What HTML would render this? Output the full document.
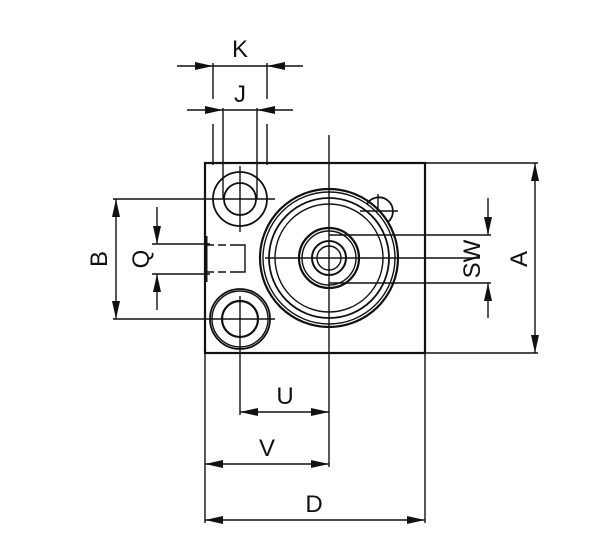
<!DOCTYPE html>
<html><head><style>body{margin:0;background:#fff}svg{display:block}text{font-family:"Liberation Sans",sans-serif;font-size:24px;fill:#111}</style></head>
<body>
<svg width="600" height="537" viewBox="0 0 600 537" xmlns="http://www.w3.org/2000/svg">
<defs>
<marker id="a" markerUnits="userSpaceOnUse" markerWidth="20" markerHeight="10" refX="18" refY="4" orient="auto"><path d="M0,0 L18,4 L0,8 Z" fill="#111"/></marker>
</defs>
<g stroke="#111" fill="none" stroke-width="1.4">
<rect x="205" y="163" width="220" height="190" stroke-width="2.2"/>
<line x1="329" y1="135" x2="329" y2="467"/>
<line x1="265" y1="258" x2="480" y2="258"/>
<circle cx="329" cy="258" r="69" stroke-width="2.2"/>
<circle cx="329" cy="258" r="66"/>
<circle cx="329" cy="258" r="60" stroke-width="1.8"/>
<circle cx="329" cy="258" r="54"/>
<circle cx="329" cy="258" r="30" stroke-width="2.2"/>
<circle cx="329" cy="258" r="27"/>
<circle cx="329" cy="258" r="17" stroke-width="2"/>
<circle cx="329" cy="258" r="12"/>
<path d="M367,204 A14,14 0 1 1 388,222" stroke-width="1.8"/>
<line x1="378" y1="194" x2="378" y2="210"/>
<line x1="360" y1="211" x2="398" y2="211"/>
<circle cx="240" cy="199" r="27" stroke-width="1.8"/>
<circle cx="240" cy="199" r="16" stroke-width="1.8"/>
<line x1="240" y1="166" x2="240" y2="232"/>
<circle cx="240" cy="319" r="30" stroke-width="1.8"/>
<circle cx="240" cy="319" r="28"/>
<circle cx="240" cy="319" r="18" stroke-width="2.2"/>
<line x1="240" y1="296" x2="240" y2="415"/>
<line x1="206" y1="236" x2="206" y2="282" stroke-width="3"/>
<path d="M206,245 H237 M206,272 H237" stroke-dasharray="8,4"/>
<path d="M237,245 H245 V272 H237"/>
<line x1="213" y1="63" x2="213" y2="99"/>
<line x1="267" y1="63" x2="267" y2="99"/>
<line x1="213" y1="124" x2="213" y2="165"/>
<line x1="267" y1="124" x2="267" y2="165"/>
<line x1="223" y1="108" x2="223" y2="199"/>
<line x1="257" y1="108" x2="257" y2="199"/>
<line x1="177" y1="66" x2="213" y2="66" marker-end="url(#a)"/>
<line x1="303" y1="66" x2="267" y2="66" marker-end="url(#a)"/>
<line x1="213" y1="66" x2="267" y2="66"/>
<line x1="187" y1="110" x2="223" y2="110" marker-end="url(#a)"/>
<line x1="293" y1="110" x2="257" y2="110" marker-end="url(#a)"/>
<line x1="223" y1="110" x2="257" y2="110"/>
<line x1="113" y1="199" x2="275" y2="199"/>
<line x1="113" y1="319" x2="275" y2="319"/>
<line x1="152" y1="244" x2="210" y2="244"/>
<line x1="152" y1="274" x2="210" y2="274"/>
<line x1="116" y1="258" x2="116" y2="199" marker-end="url(#a)"/>
<line x1="116" y1="258" x2="116" y2="319" marker-end="url(#a)"/>
<line x1="157" y1="207" x2="157" y2="244" marker-end="url(#a)"/>
<line x1="157" y1="310" x2="157" y2="274" marker-end="url(#a)"/>
<line x1="329" y1="235" x2="491" y2="235"/>
<line x1="329" y1="283" x2="491" y2="283"/>
<line x1="425" y1="163" x2="538" y2="163"/>
<line x1="425" y1="353" x2="538" y2="353"/>
<line x1="488" y1="198" x2="488" y2="235" marker-end="url(#a)"/>
<line x1="488" y1="318" x2="488" y2="283" marker-end="url(#a)"/>
<line x1="535" y1="258" x2="535" y2="163" marker-end="url(#a)"/>
<line x1="535" y1="258" x2="535" y2="353" marker-end="url(#a)"/>
<line x1="205" y1="353" x2="205" y2="523"/>
<line x1="425" y1="353" x2="425" y2="523"/>
<line x1="285" y1="412" x2="240" y2="412" marker-end="url(#a)"/>
<line x1="285" y1="412" x2="329" y2="412" marker-end="url(#a)"/>
<line x1="267" y1="464" x2="205" y2="464" marker-end="url(#a)"/>
<line x1="267" y1="464" x2="329" y2="464" marker-end="url(#a)"/>
<line x1="315" y1="520" x2="205" y2="520" marker-end="url(#a)"/>
<line x1="315" y1="520" x2="425" y2="520" marker-end="url(#a)"/>
</g>
<text x="240" y="57" text-anchor="middle">K</text>
<text x="240" y="102" text-anchor="middle">J</text>
<text x="285" y="404" text-anchor="middle">U</text>
<text x="267" y="456" text-anchor="middle">V</text>
<text x="314" y="512" text-anchor="middle">D</text>
<text transform="translate(107,259) rotate(-90)" text-anchor="middle">B</text>
<text transform="translate(149,259) rotate(-90)" text-anchor="middle">Q</text>
<text transform="translate(480,259) rotate(-90)" text-anchor="middle">SW</text>
<text transform="translate(527,259) rotate(-90)" text-anchor="middle">A</text>
</svg>
</body></html>
